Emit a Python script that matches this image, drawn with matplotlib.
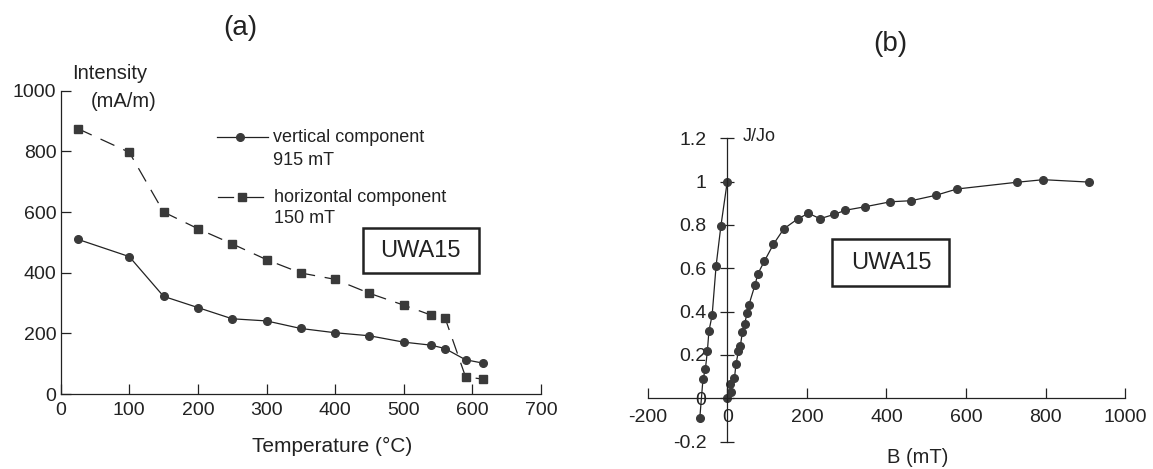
import numpy as np
import matplotlib
matplotlib.use('Agg')
import matplotlib.pyplot as plt
from matplotlib.patches import Rectangle

plt.rcParams['font.family'] = ['Liberation Sans', 'DejaVu Sans']
plt.rcParams['lines.scale_dashes'] = False

# (a) thermal demagnetisation, intensity in mA/m
temperature = [25, 100, 150, 200, 250, 300, 350, 400, 450, 500, 540, 560, 590, 615]
vertical_915 = [510, 453, 322, 285, 248, 241, 216, 202, 192, 171, 161, 150, 113, 102]
horizontal_150 = [875, 797, 600, 545, 495, 443, 399, 378, 332, 293, 260, 252, 57, 49]

# (b) IRM acquisition, J/Jo against B (mT)
b_back = [0, -16, -28, -38, -46, -50, -55, -61, -69]
j_back = [1.0, 0.795, 0.612, 0.383, 0.311, 0.217, 0.134, 0.088, -0.092]
b_up = [0, 9, 7, 18, 22, 28, 33, 38, 44, 50, 54, 70, 77, 93, 116, 142, 177, 204, 233,
        269, 297, 346, 410, 462, 524, 577, 727, 794, 908]
j_up = [0.0, 0.031, 0.065, 0.092, 0.158, 0.217, 0.242, 0.306, 0.345, 0.395, 0.429, 0.525,
        0.575, 0.632, 0.711, 0.782, 0.828, 0.854, 0.829, 0.849, 0.868, 0.884, 0.907, 0.912,
        0.937, 0.966, 0.997, 1.009, 0.998]

ink = '#222222'
dot = '#3a3a3a'

fig = plt.figure(figsize=(11.53, 4.69), dpi=100)

# ---- panel (a)
ax = fig.add_axes([0.0526, 0.1599, 0.4166, 0.6467])
ax.plot(temperature, vertical_915, '-o', color=ink, lw=0.9, ms=5.5, mfc=dot, mec=dot)
ax.plot(temperature, horizontal_150, '--s', color=ink, lw=0.9, ms=5.5, mfc=dot, mec=dot,
        dashes=(11, 7))
ax.set_xlim(0, 700)
ax.set_ylim(0, 1000)
ax.set_xticks(range(0, 701, 100))
ax.set_yticks(range(0, 1001, 200))
for s in ['top', 'right']:
    ax.spines[s].set_visible(False)
for s in ['left', 'bottom']:
    ax.spines[s].set_color(ink)
    ax.spines[s].set_linewidth(0.9)
ax.tick_params(axis='both', direction='in', length=7, width=0.9, colors=ink, labelsize=14)
ax.tick_params(axis='x', pad=6)
ax.tick_params(axis='y', pad=3)
ax.set_xlabel('Temperature (°C)', fontsize=15, color=ink)
ax.xaxis.set_label_coords(0.565, -0.14)
ax.text(0.103, 1.058, 'Intensity', transform=ax.transAxes, ha='center', va='center',
        fontsize=14.5, color=ink)
ax.text(0.132, 0.966, '(mA/m)', transform=ax.transAxes, ha='center', va='center',
        fontsize=14.5, color=ink)

# legend keys
ax.plot([0.3256, 0.4316], [0.8464, 0.8464], '-', color=ink, lw=0.9, transform=ax.transAxes)
ax.plot([0.3733], [0.8464], 'o', color=dot, ms=5.5, transform=ax.transAxes)
ax.plot([0.3275, 0.3587], [0.6485, 0.6485], '-', color=ink, lw=0.9, transform=ax.transAxes)
ax.plot([0.3877, 0.4210], [0.6485, 0.6485], '-', color=ink, lw=0.9, transform=ax.transAxes)
ax.plot([0.3781], [0.6485], 's', color=dot, ms=5.5, transform=ax.transAxes)
ax.text(0.4414, 0.8464, 'vertical component', transform=ax.transAxes, va='center',
        fontsize=13, color=ink)
ax.text(0.4414, 0.7715, '915 mT', transform=ax.transAxes, va='center', fontsize=13, color=ink)
ax.text(0.4441, 0.6485, 'horizontal component', transform=ax.transAxes, va='center',
        fontsize=13, color=ink)
ax.text(0.4441, 0.5803, '150 mT', transform=ax.transAxes, va='center', fontsize=13, color=ink)

ax.add_patch(Rectangle((0.6294, 0.398), 0.2409, 0.1503, transform=ax.transAxes,
                       fill=False, ec=ink, lw=1.8))
ax.text(0.7497, 0.4731, 'UWA15', transform=ax.transAxes, ha='center', va='center',
        fontsize=17, color=ink)

# ---- panel (b)
bx = fig.add_axes([0.5617, 0.0584, 0.4143, 0.6467])
bx.plot(b_back, j_back, '-o', color=ink, lw=0.9, ms=5.5, mfc=dot, mec=dot)
bx.plot(b_up, j_up, '-o', color=ink, lw=0.9, ms=5.5, mfc=dot, mec=dot)
bx.set_xlim(-200, 1000)
bx.set_ylim(-0.2, 1.2)
bx.set_xticks(range(-200, 1001, 200))
bx.set_yticks([-0.2, 0, 0.2, 0.4, 0.6, 0.8, 1, 1.2])
bx.set_yticklabels(['-0.2', '0', '0.2', '0.4', '0.6', '0.8', '1', '1.2'])
bx.set_xticklabels(['-200', '0', '200', '400', '600', '800', '1000'])
bx.spines['left'].set_position(('data', 0))
bx.spines['bottom'].set_position(('data', 0))
for s in ['top', 'right']:
    bx.spines[s].set_visible(False)
for s in ['left', 'bottom']:
    bx.spines[s].set_color(ink)
    bx.spines[s].set_linewidth(0.9)
bx.tick_params(axis='x', direction='in', length=7, width=0.9, colors=ink, labelsize=14, pad=8)
bx.tick_params(axis='y', direction='inout', length=10, width=0.9, colors=ink, labelsize=14,
               pad=10)
bx.text(0.1995, 1.0076, 'J/Jo', transform=bx.transAxes, va='center', fontsize=13, color=ink)
bx.text(0.566, -0.0508, 'B (mT)', transform=bx.transAxes, ha='center', va='center',
        fontsize=14.5, color=ink)
bx.add_patch(Rectangle((0.3859, 0.513), 0.246, 0.155, transform=bx.transAxes,
                       fill=False, ec=ink, lw=1.8))
bx.text(0.5094, 0.5905, 'UWA15', transform=bx.transAxes, ha='center', va='center',
        fontsize=17, color=ink)

fig.text(0.2082, 0.9403, '(a)', ha='center', va='center', fontsize=20, color=ink)
fig.text(0.7719, 0.9062, '(b)', ha='center', va='center', fontsize=20, color=ink)

fig.savefig('out.png', dpi=100)
